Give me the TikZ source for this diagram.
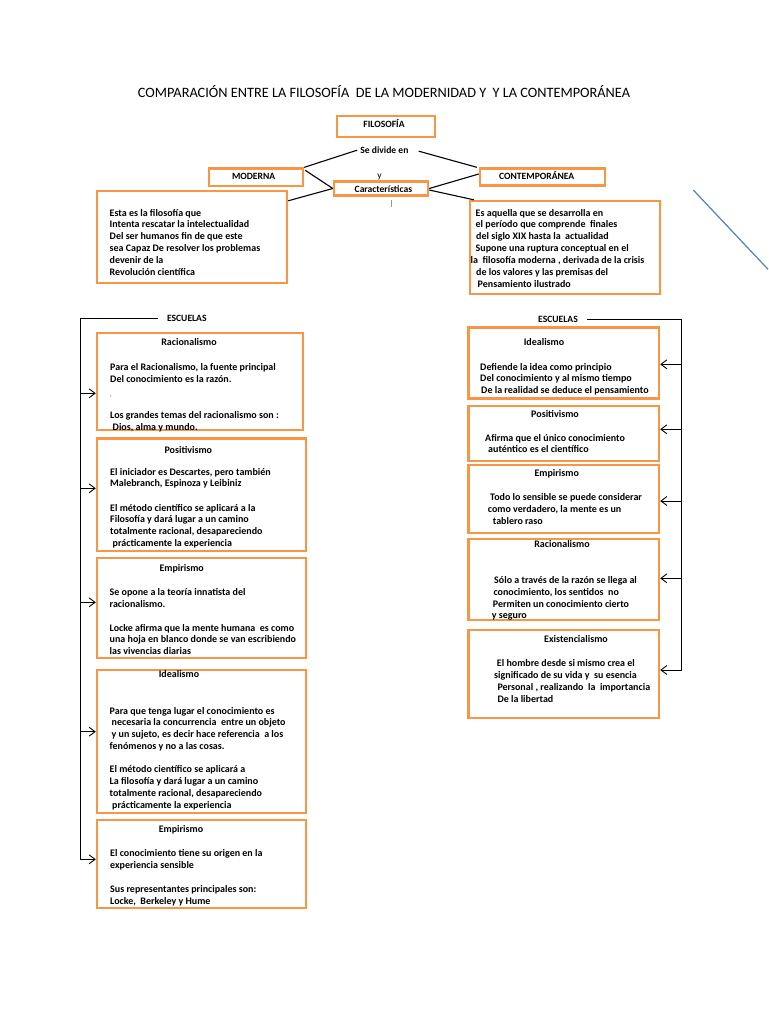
\documentclass[tikz,border=0pt]{standalone}
\usepackage{fontspec}
\setmainfont{Carlito}
\usetikzlibrary{arrows.meta,calc}
\definecolor{boxorange}{HTML}{F79646}
\definecolor{strayblue}{HTML}{4F81BD}
\definecolor{cursorblue}{HTML}{7F9CC8}
\newcommand\fstrut{\rule{0pt}{9pt}}
\tikzset{
  obox/.style={draw=boxorange, line width=2.4pt, rectangle, inner sep=0pt},
  bodytxt/.style={font=\bfseries\fontsize{10}{11.8}\selectfont, align=left, inner sep=0pt, anchor=north west, yshift=9pt},
  boxtitle/.style={font=\bfseries\fontsize{10}{11.8}\selectfont, inner sep=0pt, anchor=base},
  lbl/.style={font=\bfseries\fontsize{9.6}{11}\selectfont, inner sep=0pt, anchor=base},
  conn/.style={draw=black, line width=1.1pt},
  trunk/.style={draw=black, line width=0.9pt},
  arr/.style={trunk, -{Straight Barb[length=6pt,width=9pt]}}
}
\begin{document}
\begin{tikzpicture}[x=1pt,y=-1pt]
\path[use as bounding box, fill=white] (0,0) rectangle (768,1024);

% title
\node[font=\fontsize{14.3}{16}\selectfont, inner sep=0pt, anchor=base] (title) at (384,97.6)
  {COMPARACIÓN ENTRE LA FILOSOFÍA\ \ DE LA MODERNIDAD Y\ \ Y LA CONTEMPORÁNEA};

% top boxes
\node[obox, minimum width=98pt, minimum height=21pt] (filo) at (386,126.5) {};
\node[lbl] (filot) at (384,127.1) {FILOSOFÍA};
\node[lbl] (sediv) at (384.4,153.5) {Se divide en};
\node[obox, minimum width=94pt, minimum height=17.5pt] (moderna) at (256,177.3) {};
\node[lbl] (modt) at (253.6,179.7) {MODERNA};
\node[obox, minimum width=125pt, minimum height=17pt] (contemp) at (542.5,177) {};
\node[lbl] (cont) at (536.7,179.7) {CONTEMPORÁNEA};
\node[lbl, font=\fontsize{9.6}{11}\selectfont] (ytxt) at (379.5,178.3) {y};
\node[obox, minimum width=94pt, minimum height=14pt] (caract) at (381,188.5) {};
\node[lbl] (cart) at (383.4,193) {Características};
\coordinate (curA) at (391,200);
\coordinate (curB) at (391,207.5);
\draw[cursorblue, line width=0.9pt] (curA) -- (curB);

\node[obox, minimum width=190pt, minimum height=92pt] (descL) at (192,237) {};
\node[bodytxt] (descLt) at (109.5,216)
  {\fstrut Esta es la filosofía que\\Intenta rescatar la intelectualidad\\Del ser humanos fin de que este\\sea Capaz De resolver los problemas\\devenir de la\\Revolución científica};
\node[obox, minimum width=190pt, minimum height=93pt] (descR) at (565,247.5) {};
\node[bodytxt] (descRt) at (470.5,216)
  {\fstrut\hspace*{5pt}Es aquella que se desarrolla en\\\hspace*{5pt}el período que comprende\ \ finales\\\hspace*{5.5pt}del siglo XIX hasta la\ \ actualidad\\\hspace*{5pt}Supone una ruptura conceptual en el\\la\ \ filosofía moderna , derivada de la crisis\\\hspace*{5.5pt}de los valores y las premisas del\\\hspace*{7pt}Pensamiento ilustrado};

% connectors at top
\draw[conn] (sediv.west) ++(-3pt,0pt) coordinate (sedW) (sedW) -- (moderna.north east);
\draw[conn] (sediv.east) ++(10pt,-1pt) coordinate (sedE) (sedE) -- ([xshift=-2pt]contemp.north west);
\draw[conn] ([xshift=1pt,yshift=7pt]moderna.east) -- (caract.west);
\draw[conn] ([yshift=-11pt]descL.north east) -- (caract.west);
\draw[conn] (caract.east) -- ([yshift=3pt]contemp.west);
\draw[conn] ([yshift=-1.5pt]caract.east) -- ([xshift=5pt]descR.north west);

% blue stray stroke
\coordinate (bl1) at (693.3,190);
\coordinate (bl2) at (768,269.3);
\draw[draw=strayblue, line width=1.2pt] (bl1) -- (bl2);

% ---------- left column ----------
\node[lbl] (escL) at (186.8,321.2) {ESCUELAS};
\node[obox, minimum width=206pt, minimum height=97pt] (lb1) at (200,381.5) {};
\node[boxtitle] (lb1t) at (189,345.6) {Racionalismo};
\node[bodytxt] (lb1a) at (110,370) {\fstrut Para el Racionalismo, la fuente principal\\Del conocimiento es la razón.};
\node[bodytxt, font=\fontsize{6}{7}\selectfont] (lb1c) at (110,396) {\fstrut,};
\node[bodytxt] (lb1b) at (110,418) {\fstrut Los grandes temas del racionalismo son :\\\hspace*{2.5pt}Dios, alma y mundo.};

\node[obox, minimum width=209pt, minimum height=112.5pt] (lb2) at (201.5,494.75) {};
\node[boxtitle] (lb2t) at (188.3,453.2) {Positivismo};
\node[bodytxt] (lb2a) at (110,474.8) {\fstrut El iniciador es Descartes, pero también\\Malebranch, Espinoza y Leibiniz};
\node[bodytxt] (lb2b) at (110,510.8) {\fstrut El método científico se aplicará a la\\Filosofía y dará lugar a un camino\\totalmente racional, desapareciendo\\\hspace*{2.5pt}prácticamente la experiencia};

\node[obox, minimum width=209pt, minimum height=100pt] (lb3) at (201.5,607.7) {};
\node[boxtitle] (lb3t) at (181.7,571.5) {Empirismo};
\node[bodytxt] (lb3a) at (109.5,595.5) {\fstrut Se opone a la teoría innatista del\\racionalismo.};
\node[bodytxt] (lb3b) at (109.5,630.8) {\fstrut Locke afirma que la mente humana\ \ es como\\una hoja en blanco donde se van escribiendo\\las vivencias diarias};

\node[obox, minimum width=209pt, minimum height=143pt] (lb4) at (201.5,741.5) {};
\node[boxtitle] (lb4t) at (179,677.5) {Idealismo};
\node[bodytxt] (lb4a) at (109.5,713.8) {\fstrut Para que tenga lugar el conocimiento es\\\hspace*{2pt}necesaria la concurrencia\ \ entre un objeto\\\hspace*{2pt}y un sujeto, es decir hace referencia\ \ a los\\fenómenos y no a las cosas.};
\node[bodytxt] (lb4b) at (109.5,772.5) {\fstrut El método científico se aplicará a\\La filosofía y dará lugar a un camino\\totalmente racional, desapareciendo\\\hspace*{2.5pt}prácticamente la experiencia};

\node[obox, minimum width=209pt, minimum height=88pt] (lb5) at (201.5,864) {};
\node[boxtitle] (lb5t) at (181,832.5) {Empirismo};
\node[bodytxt] (lb5a) at (110,856.5) {\fstrut El conocimiento tiene su origen en la\\experiencia sensible};
\node[bodytxt] (lb5b) at (110,892.5) {\fstrut Sus representantes principales son:\\Locke,\ \ Berkeley y Hume};

\coordinate (tLbot) at (80,859.3);
\coordinate (tL1) at (80,393.3);
\coordinate (tL2) at (80,488.3);
\coordinate (tL3) at (80,602.3);
\coordinate (tL4) at (80,731.7);
\draw[arr] ([xshift=-9pt]escL.west) -| (tLbot) -- (tLbot -| lb5.west);
\draw[arr] (tL1) -- (tL1 -| lb1.west);
\draw[arr] (tL2) -- (tL2 -| lb2.west);
\draw[arr] (tL3) -- (tL3 -| lb3.west);
\draw[arr] (tL4) -- (tL4 -| lb4.west);

% ---------- right column ----------
\node[lbl] (escR) at (558,322.2) {ESCUELAS};
\node[obox, minimum width=190.5pt, minimum height=71pt] (rb1) at (563.75,363) {};
\node[boxtitle] (rb1t) at (544,345.5) {Idealismo};
\node[bodytxt] (rb1a) at (480,369.8) {\fstrut Defiende la idea como principio\\Del conocimiento y al mismo tiempo\\\hspace*{1pt}De la realidad se deduce el pensamiento};

\node[obox, minimum width=190.5pt, minimum height=55pt] (rb2) at (563.75,433.5) {};
\node[boxtitle] (rb2t) at (555,417.2) {Positivismo};
\node[bodytxt] (rb2a) at (485,440.8) {\fstrut Afirma que el único conocimiento\\\hspace*{3pt}auténtico es el científico};

\node[obox, minimum width=190.5pt, minimum height=68pt] (rb3) at (563.75,499) {};
\node[boxtitle] (rb3t) at (556.7,476.5) {Empirismo};
\node[bodytxt] (rb3a) at (487.7,500.5) {\fstrut\hspace*{2.3pt}Todo lo sensible se puede considerar\\como verdadero, la mente es un\\\hspace*{5pt}tablero raso};

\node[obox, minimum width=190.5pt, minimum height=81pt] (rb4) at (563.75,579.5) {};
\node[boxtitle] (rb4t) at (562,547.2) {Racionalismo};
\node[bodytxt] (rb4a) at (491.7,583.2) {\fstrut\hspace*{2.3pt}Sólo a través de la razón se llega al\\\hspace*{1.6pt}conocimiento, los sentidos\ \ no\\\hspace*{1pt}Permiten un conocimiento cierto\\y seguro};

\node[obox, minimum width=190.5pt, minimum height=88pt] (rb5) at (563.75,674) {};
\node[boxtitle] (rb5t) at (576,642.5) {Existencialismo};
\node[bodytxt] (rb5a) at (494,666.5) {\fstrut\hspace*{2.7pt}El hombre desde si mismo crea el\\significado de su vida y\ \ su esencia\\\hspace*{3.3pt}Personal , realizando\ \ la\ \ importancia\\\hspace*{3.3pt}De la libertad};

\coordinate (tRbot) at (681.7,670);
\coordinate (tR1) at (681.7,364.3);
\coordinate (tR2) at (681.7,429.3);
\coordinate (tR3) at (681.7,501);
\coordinate (tR4) at (681.7,578.3);
\draw[arr] ([xshift=9pt]escR.east) -| (tRbot) -- (tRbot -| rb5.east);
\draw[arr] (tR1) -- (tR1 -| rb1.east);
\draw[arr] (tR2) -- (tR2 -| rb2.east);
\draw[arr] (tR3) -- (tR3 -| rb3.east);
\draw[arr] (tR4) -- (tR4 -| rb4.east);
\end{tikzpicture}
\end{document}
